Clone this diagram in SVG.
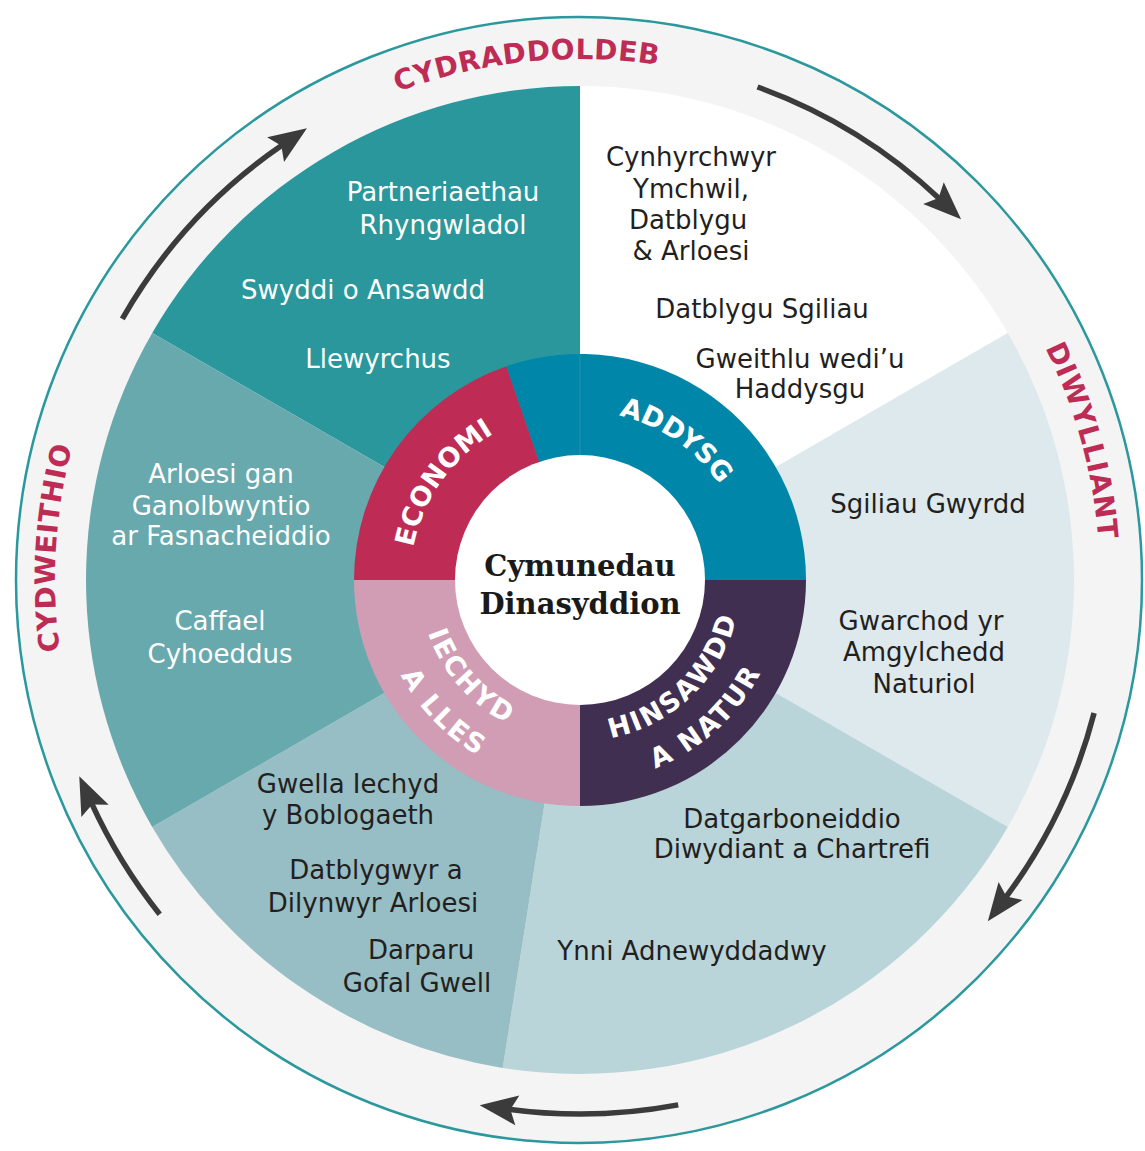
<svg xmlns="http://www.w3.org/2000/svg" width="1145" height="1151" viewBox="0 0 1145 1151">
<style>
.t{font-family:"DejaVu Sans","Liberation Sans",sans-serif;font-size:26px;text-anchor:middle}
.w{fill:#ffffff}
.d{fill:#231f20}
.outer{font-family:"DejaVu Sans","Liberation Sans",sans-serif;font-weight:bold;font-size:28px;fill:#be2c55;letter-spacing:0.5px}
.ring{font-family:"DejaVu Sans","Liberation Sans",sans-serif;font-weight:bold;font-size:27px;fill:#ffffff}
.ctr{font-family:"DejaVu Serif","Liberation Serif",serif;font-weight:bold;font-size:29px;fill:#1a1a1a;text-anchor:middle}
.arrow{fill:none;stroke:#3b3b3b;stroke-width:5.5;marker-end:url(#ah)}
</style>
<defs>
<marker id="ah" markerUnits="userSpaceOnUse" orient="auto" viewBox="-10 -18 45 36" markerWidth="45" markerHeight="36" refX="2" refY="0" overflow="visible">
<path d="M31,0 L-7,-15 L0,0 L-7,15 Z" fill="#3b3b3b"/>
</marker>
<path id="pCyd" d="M205.9,217.4 A521,521 0 0 1 872.1,148.6"/>
<path id="pDiw" d="M874.5,151.5 A520,520 0 0 1 1053.2,795.6"/>
<path id="pCydw" d="M158.0,892.3 A525,525 0 0 1 199.2,218.6"/>
<path id="pEco" d="M425.6,651.0 A170,170 0 0 1 595.7,410.7"/>
<path id="pAdd" d="M507.2,427.5 A169,169 0 0 1 748.5,593.3"/>
<path id="pIech" d="M427.4,528.6 A161,161 0 0 0 611.8,737.8"/>
<path id="pLles" d="M384.8,524.4 A203,203 0 0 0 629.5,776.9"/>
<path id="pHins" d="M535.6,734.8 A161,161 0 0 0 736.2,541.1"/>
<path id="pNatur" d="M519.0,773.6 A203,203 0 0 0 778.2,536.1"/>
</defs>

<rect width="1145" height="1151" fill="#ffffff"/>

<g id="outer-ring">
<circle cx="579" cy="580" r="563" fill="#f4f4f4" stroke="#2a989d" stroke-width="2.5"/>
<text class="outer"><textPath href="#pCyd" startOffset="50%" text-anchor="middle">CYDRADDOLDEB</textPath></text>
<text class="outer"><textPath href="#pDiw" startOffset="50%" text-anchor="middle">DIWYLLIANT</textPath></text>
<text class="outer"><textPath href="#pCydw" startOffset="50%" text-anchor="middle">CYDWEITHIO</textPath></text>
</g>

<g id="wedge-economi-outer">
<path d="M580,580 L152.2,333 A494,494 0 0 1 580,86 Z" fill="#2a979c"/>
<text class="t w" x="443" y="201">Partneriaethau</text>
<text class="t w" x="443" y="234">Rhyngwladol</text>
<text class="t w" x="363" y="299">Swyddi o Ansawdd</text>
<text class="t w" x="378" y="368">Llewyrchus</text>
</g>

<g id="wedge-addysg-outer">
<path d="M580,580 L580,86 A494,494 0 0 1 1007.8,333 Z" fill="#ffffff"/>
<text class="t d" x="691" y="166">Cynhyrchwyr</text>
<text class="t d" x="691" y="198">Ymchwil,</text>
<text class="t d" x="688" y="229">Datblygu</text>
<text class="t d" x="691" y="260">&amp; Arloesi</text>
<text class="t d" x="762" y="318">Datblygu Sgiliau</text>
<text class="t d" x="800" y="368">Gweithlu wedi’u</text>
<text class="t d" x="800" y="398">Haddysgu</text>
</g>

<g id="wedge-diwylliant">
<path d="M580,580 L1007.8,333 A494,494 0 0 1 1007.8,827 Z" fill="#dde9ed"/>
<text class="t d" x="928" y="513">Sgiliau Gwyrdd</text>
<text class="t d" x="921" y="630">Gwarchod yr</text>
<text class="t d" x="924" y="661">Amgylchedd</text>
<text class="t d" x="924" y="693">Naturiol</text>
</g>

<g id="wedge-hinsawdd-outer">
<path d="M580,580 L1007.8,827 A494,494 0 0 1 502.7,1067.9 Z" fill="#b9d5d9"/>
<text class="t d" x="792" y="828">Datgarboneiddio</text>
<text class="t d" x="792" y="858">Diwydiant a Chartrefi</text>
<text class="t d" x="692" y="960">Ynni Adnewyddadwy</text>
</g>

<g id="wedge-iechyd-outer">
<path d="M580,580 L502.7,1067.9 A494,494 0 0 1 152.2,827 Z" fill="#96bec4"/>
<text class="t d" x="348" y="793">Gwella Iechyd</text>
<text class="t d" x="348" y="824">y Boblogaeth</text>
<text class="t d" x="376" y="879">Datblygwyr a</text>
<text class="t d" x="373" y="912">Dilynwyr Arloesi</text>
<text class="t d" x="421" y="959">Darparu</text>
<text class="t d" x="417" y="992">Gofal Gwell</text>
</g>

<g id="wedge-cydweithio">
<path d="M580,580 L152.2,827 A494,494 0 0 1 152.2,333 Z" fill="#68a9ae"/>
<text class="t w" x="221" y="483">Arloesi gan</text>
<text class="t w" x="221" y="515">Ganolbwyntio</text>
<text class="t w" x="221" y="545">ar Fasnacheiddio</text>
<text class="t w" x="220" y="630">Caffael</text>
<text class="t w" x="220" y="663">Cyhoeddus</text>
</g>

<g id="ring-economi">
<path d="M580,580 L354,580 A226,226 0 0 1 506.4,366.3 Z" fill="#be2c55"/>
</g>
<g id="ring-addysg">
<path d="M580,580 L506.4,366.3 A226,226 0 0 1 806,580 Z" fill="#0086a9"/>
<line x1="580" y1="355" x2="580" y2="460" stroke="#2a93b2" stroke-width="1"/>
</g>
<g id="ring-hinsawdd">
<path d="M580,580 L806,580 A226,226 0 0 1 580,806 Z" fill="#402f51"/>
</g>
<g id="ring-iechyd">
<path d="M580,580 L580,806 A226,226 0 0 1 354,580 Z" fill="#d09db4"/>
</g>

<g id="ring-labels">
<text class="ring"><textPath href="#pEco" startOffset="50%" text-anchor="middle">ECONOMI</textPath></text>
<text class="ring"><textPath href="#pAdd" startOffset="50%" text-anchor="middle">ADDYSG</textPath></text>
<text class="ring" letter-spacing="2"><textPath href="#pIech" startOffset="50%" text-anchor="middle">IECHYD</textPath></text>
<text class="ring" letter-spacing="2"><textPath href="#pLles" startOffset="50%" text-anchor="middle">A LLES</textPath></text>
<text class="ring" letter-spacing="2"><textPath href="#pHins" startOffset="50%" text-anchor="middle">HINSAWDD</textPath></text>
<text class="ring" letter-spacing="2"><textPath href="#pNatur" startOffset="50%" text-anchor="middle">A NATUR</textPath></text>
</g>

<g id="center">
<circle cx="580" cy="580" r="125" fill="#ffffff"/>
<text class="ctr" x="580" y="576">Cymunedau</text>
<text class="ctr" x="580" y="614">Dinasyddion</text>
</g>

<g id="connectors">
<path class="arrow" d="M122.3,318.9 A527,527 0 0 1 283.0,144.6"/>
<path class="arrow" d="M757.5,87.0 A524,524 0 0 1 940.0,199.3"/>
<path class="arrow" d="M1094.1,713.0 A531,531 0 0 1 1005.2,898.1"/>
<path class="arrow" d="M678.2,1104.9 A534,534 0 0 1 508.4,1109.2"/>
<path class="arrow" d="M159.7,914.3 A537,537 0 0 1 91.3,802.7"/>
</g>
</svg>
